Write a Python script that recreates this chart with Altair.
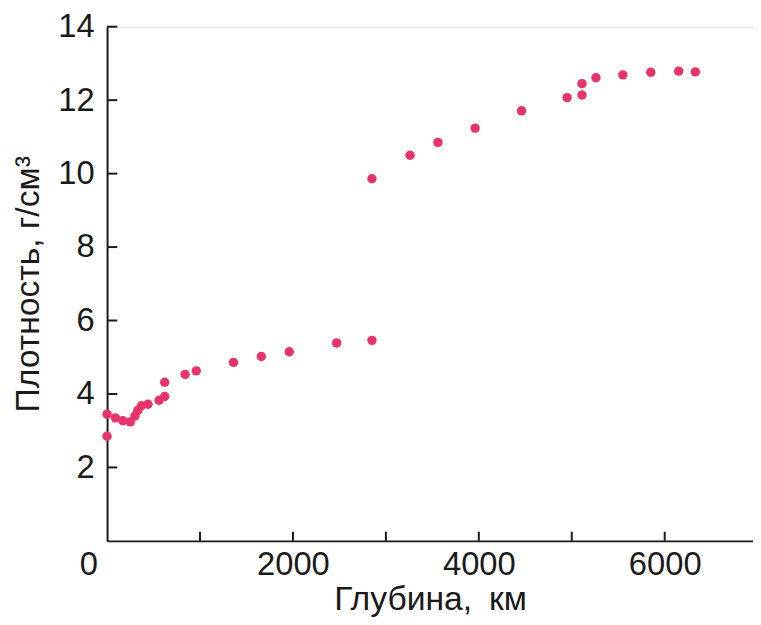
import altair as alt
import pandas as pd

depth_km = [0, 0, 90, 170, 250, 300, 330, 370, 440, 560, 620, 620, 840, 960,
            1360, 1660, 1960, 2470, 2850, 2850, 3260, 3560, 3960, 4460, 4950,
            5110, 5110, 5260, 5550, 5850, 6150, 6330]
density = [2.85, 3.45, 3.35, 3.27, 3.24, 3.4, 3.55, 3.68, 3.72, 3.83, 3.93, 4.32,
           4.53, 4.63, 4.86, 5.02, 5.15, 5.39, 5.46, 9.86, 10.5, 10.85, 11.24,
           11.71, 12.07, 12.14, 12.45, 12.61, 12.69, 12.76, 12.79, 12.77]

x_tick_values = [1000, 2000, 3000, 4000, 5000, 6000]
x_label_values = [0, 2000, 4000, 6000]
y_tick_values = [2, 4, 6, 8, 10, 12, 14]

FONT = "Liberation Sans"
COLOR = "#e8336a"
INK = "#1a1a1a"

df = pd.DataFrame({"depth": depth_km, "density": density})
xt = pd.DataFrame({"v": x_tick_values, "y0": [0] * len(x_tick_values), "y1": [0.25] * len(x_tick_values)})
yt = pd.DataFrame({"v": y_tick_values, "x0": [0] * len(y_tick_values), "x1": [110] * len(y_tick_values)})

xscale = alt.Scale(domain=[0, 6950], nice=False, zero=False)
yscale = alt.Scale(domain=[0, 14], nice=False, zero=False)

points = alt.Chart(df).mark_circle(size=90, color=COLOR, opacity=1).encode(
    x=alt.X("depth:Q", scale=xscale, title="Глубина,\u2002км",
            axis=alt.Axis(values=x_label_values, format="d", ticks=False, grid=False,
                          domainColor=INK, domainWidth=2,
                          labelFont=FONT, labelFontSize=33, labelColor=INK,
                          labelPadding=8,
                          labelOffset={"condition": {"test": "datum.value == 0", "value": -28}, "value": 0},
                          titleFont=FONT, titleFontSize=34, titleFontWeight="normal",
                          titleColor=INK, titlePadding=1)),
    y=alt.Y("density:Q", scale=yscale, title="Плотность, г/см³",
            axis=alt.Axis(values=y_tick_values, ticks=False, grid=False,
                          domainColor=INK, domainWidth=2,
                          labelFont=FONT, labelFontSize=33, labelColor=INK,
                          labelPadding=13,
                          titleFont=FONT, titleFontSize=34, titleFontWeight="normal",
                          titleColor=INK, titlePadding=13)),
)

xticks = alt.Chart(xt).mark_rule(color=INK, strokeWidth=2).encode(
    x=alt.X("v:Q", scale=xscale), y=alt.Y("y0:Q", scale=yscale), y2="y1:Q"
)
yticks = alt.Chart(yt).mark_rule(color=INK, strokeWidth=2).encode(
    y=alt.Y("v:Q", scale=yscale), x=alt.X("x0:Q", scale=xscale), x2="x1:Q"
)

chart = alt.layer(xticks, yticks, points).properties(
    width=652, height=519,
    autosize=alt.AutoSizeParams(type="none"),
    padding={"left": 100, "top": 16, "right": 0, "bottom": 80},
).configure_view(stroke=None).configure(background="white")

chart.save("out.html", embed_options={"renderer": "svg", "actions": False})
